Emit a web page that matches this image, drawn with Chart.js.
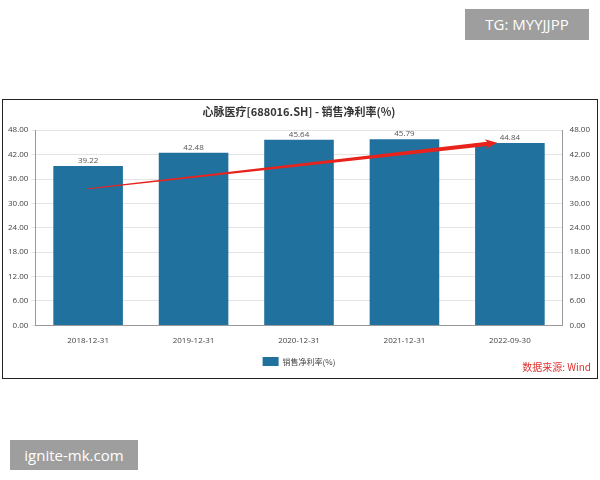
<!DOCTYPE html>
<html>
<head>
<script src="https://cdn.jsdelivr.net/npm/chart.js"></script>
<style>
  body { margin: 0; width: 600px; height: 480px; background: #fff; position: relative; font-family: "Noto Sans CJK SC", sans-serif; }
  #frame { position: absolute; left: 2px; top: 99px; width: 594px; height: 278px; border: 1px solid #222; }
  #tg { position: absolute; left: 465px; top: 9px; width: 124px; height: 31px; background: #9e9e9e; color: #fff; font: 15px "Open Sans", sans-serif; line-height: 31px; text-align: center; }
  #ig { position: absolute; left: 10px; top: 440px; width: 128px; height: 30px; background: #9e9e9e; color: #fff; font: 15px "Open Sans", sans-serif; line-height: 30px; text-align: center; }
  #src { position: absolute; right: 6px; top: 259px; color: #e03030; font-size: 10px; }
</style>
</head>
<body>
<div id="tg">TG: MYYJJPP</div>
<div id="frame">
  <canvas id="c" width="594" height="278"></canvas>
  <div id="src">数据来源: Wind</div>
</div>
<div id="ig">ignite-mk.com</div>
<script>
const categories = ["2018-12-31", "2019-12-31", "2020-12-31", "2021-12-31", "2022-09-30"];
const netMargin = [39.22, 42.48, 45.64, 45.79, 44.84];
const ticks = [0, 6, 12, 18, 24, 30, 36, 42, 48];
// annotation arrow drawn on top of the screenshot: [x index, value]
const arrowFrom = [0, 33.6];
const arrowTo = [3.88, 44.9];

const arrowPlugin = {
  id: "arrow",
  afterDatasetsDraw(chart) {
    const { ctx, scales: { x, y } } = chart;
    const x0 = x.getPixelForValue(arrowFrom[0]), y0 = y.getPixelForValue(arrowFrom[1]);
    const x1 = x.getPixelForValue(arrowTo[0]), y1 = y.getPixelForValue(arrowTo[1]);
    const ang = Math.atan2(y1 - y0, x1 - x0);
    ctx.save();
    ctx.fillStyle = "#e8231c";
    const len = Math.hypot(x1 - x0, y1 - y0);
    ctx.translate(x0, y0);
    ctx.rotate(ang);
    ctx.beginPath();
    ctx.moveTo(0, -0.5);
    ctx.lineTo(len - 10, -2.2);
    ctx.lineTo(len - 12, -5);
    ctx.lineTo(len, 0);
    ctx.lineTo(len - 12, 5);
    ctx.lineTo(len - 10, 2.2);
    ctx.lineTo(0, 0.5);
    ctx.closePath();
    ctx.fill();
    ctx.restore();
  }
};

const labelPlugin = {
  id: "vals",
  afterDatasetsDraw(chart) {
    const { ctx } = chart;
    const meta = chart.getDatasetMeta(0);
    ctx.save();
    ctx.fillStyle = "#555";
    ctx.font = "8px 'Open Sans', sans-serif";
    ctx.textAlign = "center";
    ctx.textBaseline = "bottom";
    meta.data.forEach((b, i) => ctx.fillText(netMargin[i].toFixed(2), b.x, b.y - 1));
    ctx.restore();
  }
};

const tickOpts = {
  font: { size: 8, family: "'Open Sans', sans-serif" }, color: "#444",
  callback: v => v.toFixed(2), autoSkip: false
};
const yAxis = (pos, grid) => ({
  position: pos, min: 0, max: 48,
  afterBuildTicks: s => { s.ticks = ticks.map(v => ({ value: v })); },
  ticks: tickOpts,
  border: { display: true, color: "#999" },
  grid: { display: grid, color: "#e4e4e4", tickLength: 4, drawTicks: true }
});

new Chart(document.getElementById("c"), {
  type: "bar",
  data: {
    labels: categories,
    datasets: [{ label: "销售净利率(%)", data: netMargin, backgroundColor: "#21719f", categoryPercentage: 1, barPercentage: 0.66 }]
  },
  options: {
    responsive: false, animation: false,
    layout: { padding: { left: 2, right: 4, top: 0, bottom: 2 } },
    plugins: {
      title: { display: true, text: "心脉医疗[688016.SH] - 销售净利率(%)", color: "#333", font: { size: 11, weight: "bold", family: "'Noto Sans CJK SC'" }, padding: { top: 5, bottom: 12 } },
      legend: { position: "bottom", labels: { boxWidth: 16, boxHeight: 9, padding: 8, font: { size: 8, family: "'Noto Sans CJK SC'" }, color: "#444" } },
      tooltip: { enabled: false }
    },
    scales: {
      x: { ticks: { font: { size: 8, family: "'Open Sans', sans-serif" }, color: "#444" }, grid: { display: false }, border: { color: "#999" } },
      y: yAxis("left", true),
      y2: yAxis("right", false)
    }
  },
  plugins: [labelPlugin, arrowPlugin]
});
</script>
</body>
</html>
